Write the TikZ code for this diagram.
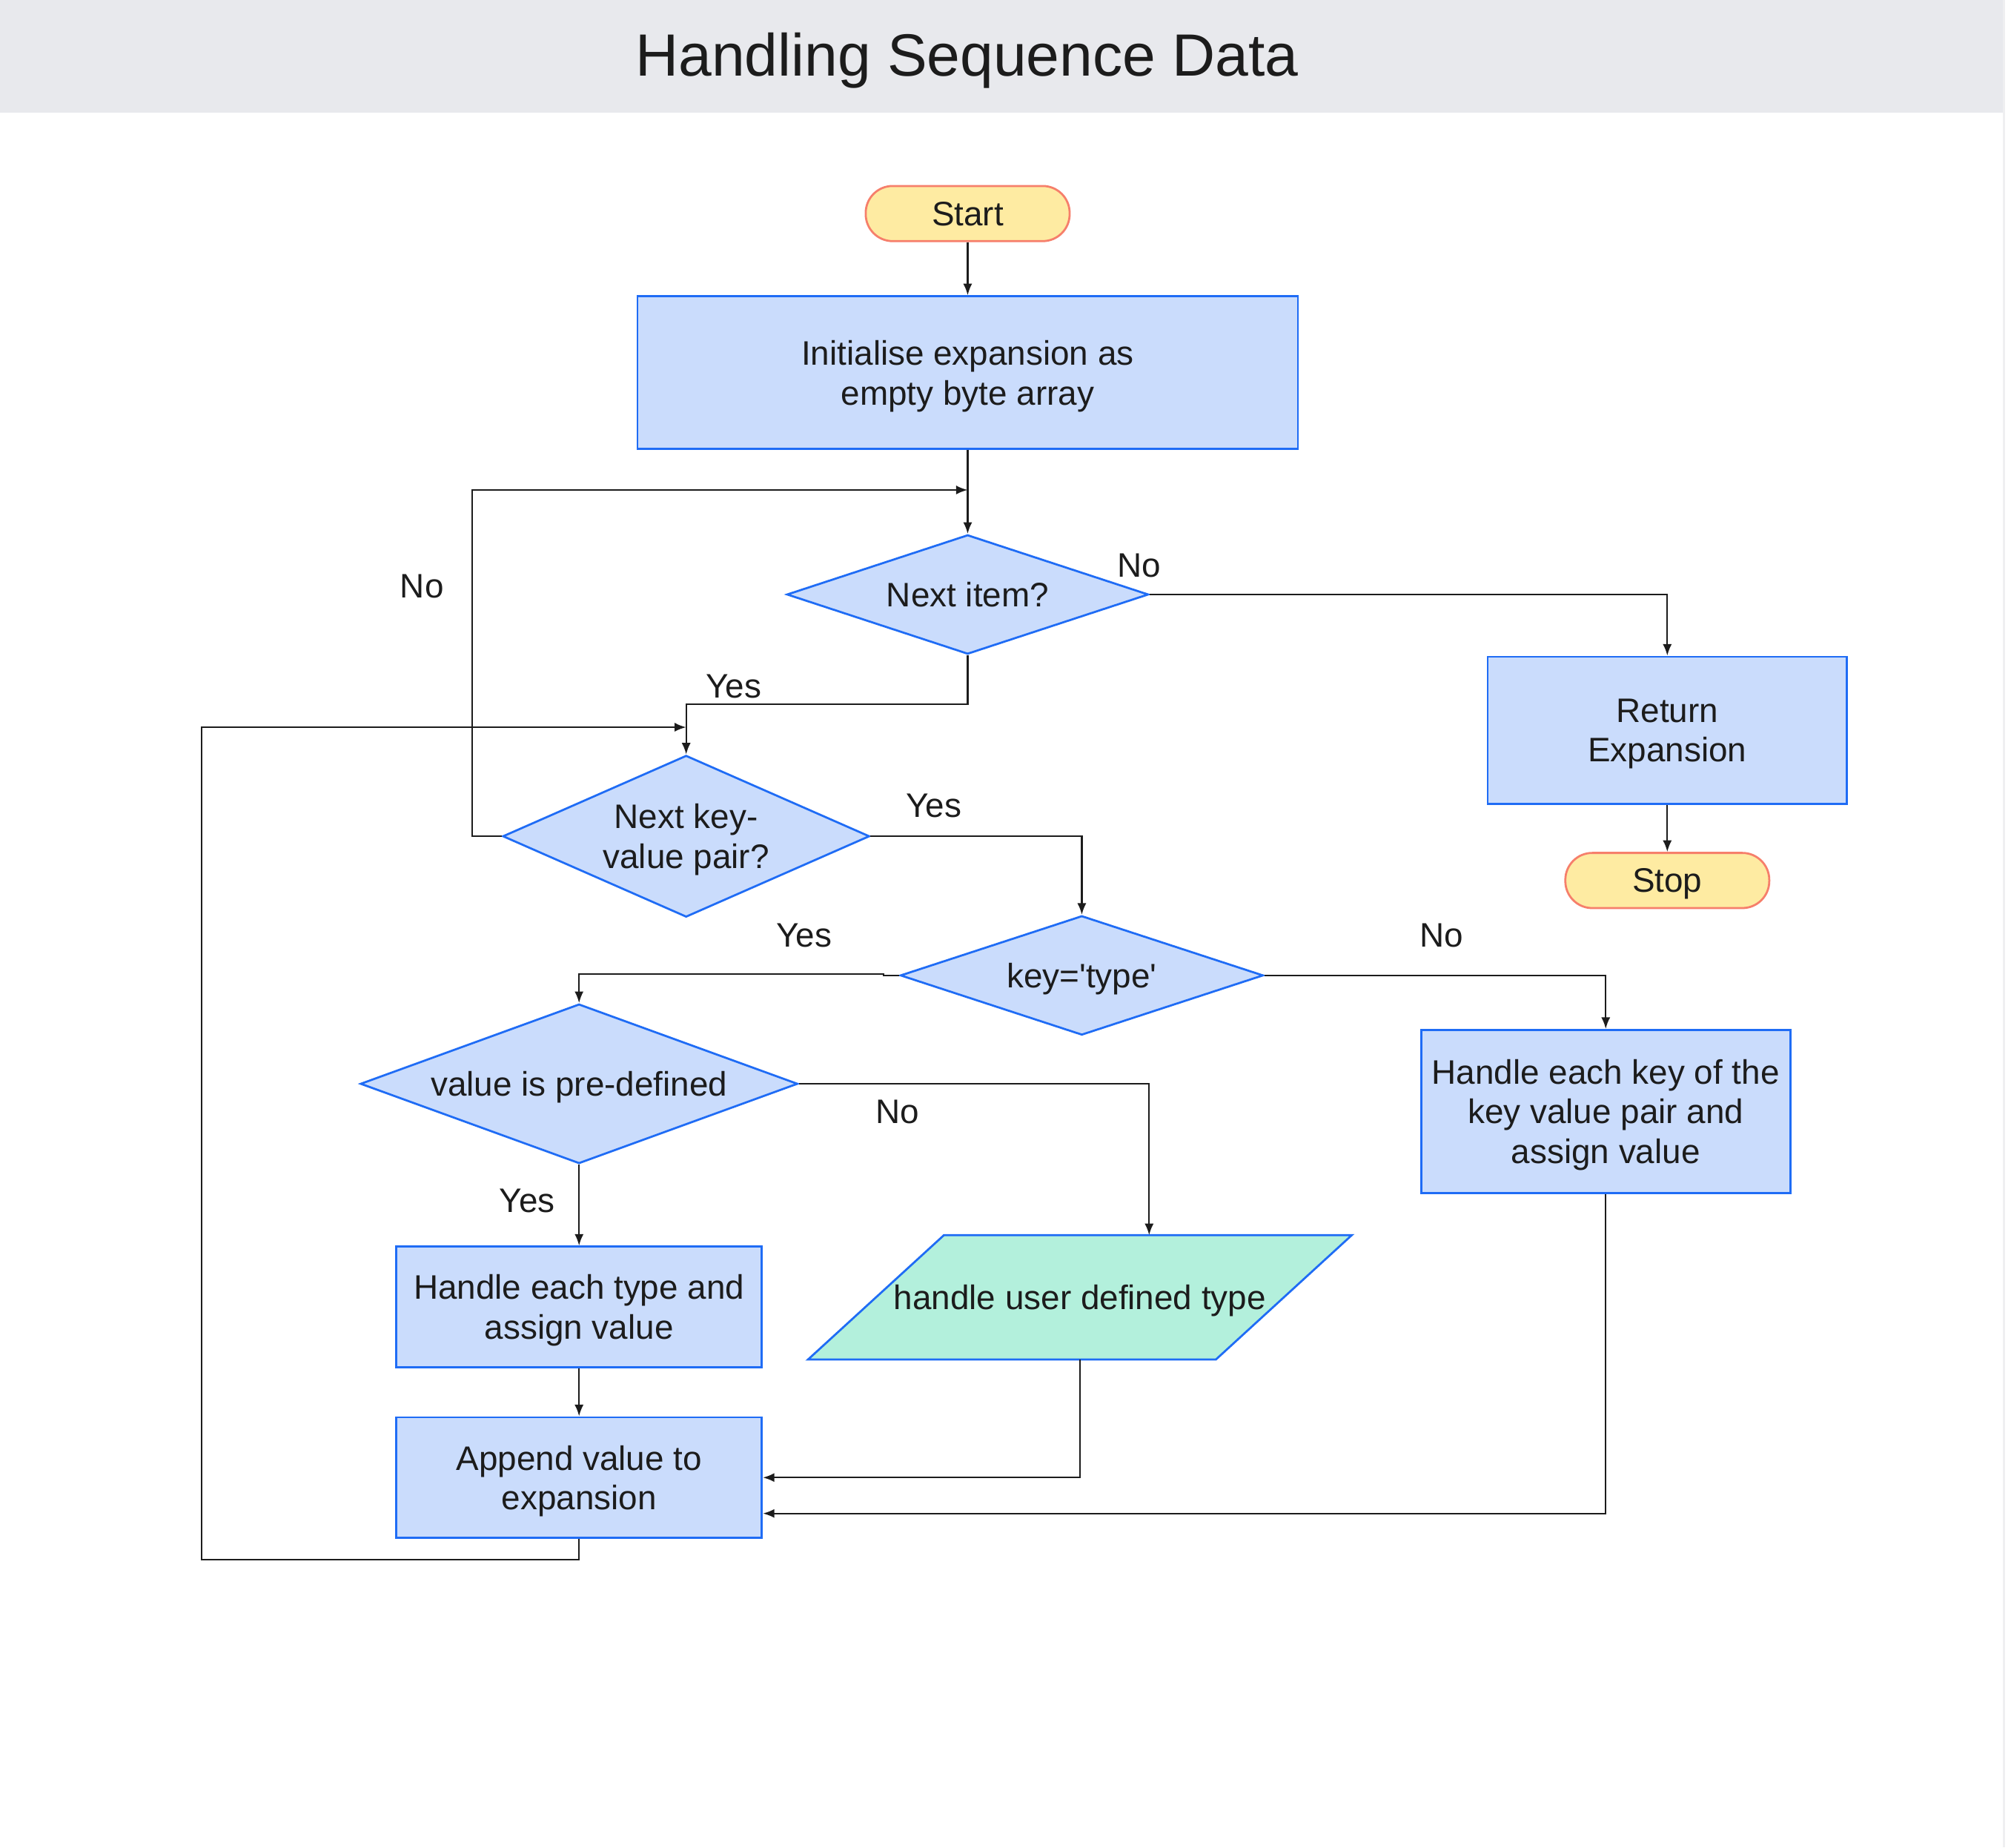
\documentclass[tikz,border=0pt]{standalone}
\usepackage{fontspec}
\setmainfont{Liberation Sans}
\usetikzlibrary{shapes.geometric,arrows.meta}
\definecolor{band}{HTML}{E8E9ED}
\definecolor{edge}{HTML}{EFEFF1}
\definecolor{ink}{HTML}{1C1C1C}
\definecolor{bord}{HTML}{1F6CF5}
\definecolor{boxfill}{HTML}{CADCFC}
\definecolor{yel}{HTML}{FEEBA2}
\definecolor{salmon}{HTML}{F67F6B}
\definecolor{mint}{HTML}{B3F0DC}
\begin{document}
\begin{tikzpicture}[x=1pt,y=-1pt,
  every node/.style={font=\fontsize{26.5}{31}\selectfont, text=ink, text depth=0pt},
  proc/.style={draw=bord, fill=boxfill, line width=1.6pt, rectangle, align=center, inner sep=0pt},
  term/.style={draw=salmon, fill=yel, line width=1.6pt, rectangle, rounded corners=21pt,
               minimum width=159pt, minimum height=43pt, inner sep=0pt},
  dec/.style={draw=bord, fill=boxfill, line width=1.6pt, diamond, aspect=2.2, align=center, inner sep=0pt},
  lbl/.style={inner sep=0pt},
  arr/.style={draw=ink, line width=1.3pt, -{Latex[length=9pt,width=7pt]}}]
\useasboundingbox (0,0) rectangle (1568,1440.3);
\fill[white] (0,0) rectangle (1568,1440.3);
\fill[band] (0,0) rectangle (1561.7,88);
\draw[draw=edge, line width=1.2pt] (1562.5,0) -- (1562.5,1440.3);
\node[font=\fontsize{46.5}{56}\selectfont, anchor=base, inner sep=0pt] (title) at (754,59.5) {Handling Sequence Data};

% nodes
\node[term] (start) at (754.5,166.5) {Start};
\node[proc, minimum width=515pt, minimum height=119pt] (init) at (754.5,290.5) {Initialise expansion as\\empty byte array};
\node[dec, minimum width=282pt, minimum height=93pt] (item) at (754.5,463.5) {Next item?};
\node[proc, minimum width=280pt, minimum height=115pt] (ret) at (1300,569.5) {Return\\Expansion};
\node[term] (stop) at (1300,686.5) {Stop};
\node[dec, minimum width=286pt, minimum height=126pt] (kv) at (535,652) {Next key-\\value pair?};
\node[dec, minimum width=283pt, minimum height=93pt] (key) at (843.5,760.5) {key=\textquotesingle type\textquotesingle};
\node[dec, minimum width=341pt, minimum height=124pt] (val) at (451.5,845) {value is pre-defined};
\node[proc, minimum width=288pt, minimum height=127pt] (hkey) at (1252,866.5) {Handle each key of the\\key value pair and\\assign value};
\node[proc, minimum width=285pt, minimum height=94pt] (htype) at (451.5,1019) {Handle each type and\\assign value};
\node[proc, minimum width=285pt, minimum height=94pt] (app) at (451.5,1152) {Append value to\\expansion};
\filldraw[draw=bord, fill=mint, line width=1.6pt] (630,1060) -- (736,963) -- (1054,963) -- (948,1060) -- cycle;
\node[inner sep=0pt] (udt) at (842,1011.5) {handle user defined type};
\coordinate (udtin) at (896,963);
\coordinate (udtout) at (842,1060);

% labels
\node[lbl] (lno1) at (329,457) {No};
\node[lbl] (lno2) at (888,441) {No};
\node[lbl] (lyes1) at (572,535) {Yes};
\node[lbl] (lyes2) at (728,628) {Yes};
\node[lbl] (lyes3) at (627,729) {Yes};
\node[lbl] (lno3) at (1124,729) {No};
\node[lbl] (lyes4) at (411,936) {Yes};
\node[lbl] (lno4) at (700,867) {No};

% connectors
\draw[arr] (start.south) -- (init.north);
\draw[arr] (init.south) -- (item.north);
\draw[arr] (item.east) -| (ret.north);
\draw[arr] (ret.south) -- (stop.north);
\draw[arr] (item.south) -- (754.5,549) -| (kv.north);
\draw[arr] (kv.west) -- (368,652) -- (368,382) -- (754.5,382);
\draw[arr] (kv.east) -| (key.north);
\draw[arr] (key.west) -- (689,760.5) -- (689,759.5) -| (val.north);
\draw[arr] (key.east) -| (hkey.north);
\draw[arr] (val.south) -- (htype.north);
\draw[arr] (val.east) -| (udtin);
\draw[arr] (htype.south) -- (app.north);
\draw[arr] (udtout) |- (app.east);
\draw[arr] (hkey.south) |- (594.8,1180);
\draw[arr] (app.south) -- (451.5,1216) -- (157,1216) -- (157,567) -- (535,567);
\end{tikzpicture}
\end{document}
